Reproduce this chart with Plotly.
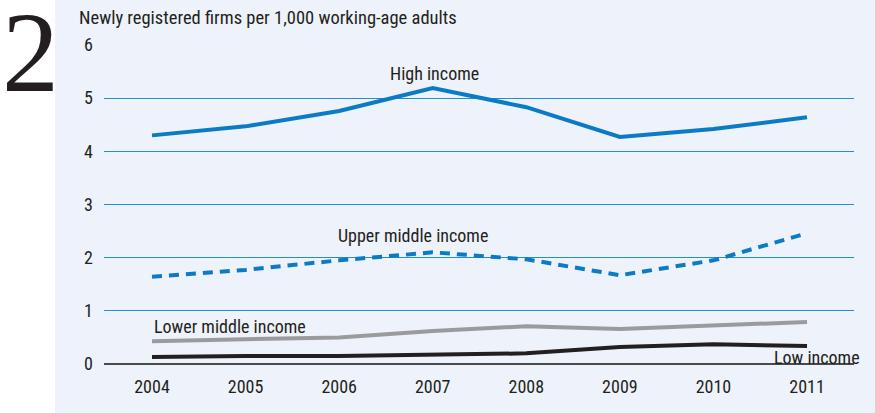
import plotly.graph_objects as go

years = [2004, 2005, 2006, 2007, 2008, 2009, 2010, 2011]
high_income = [4.30, 4.47, 4.76, 5.19, 4.83, 4.27, 4.42, 4.64]
upper_middle_income = [1.64, 1.77, 1.95, 2.10, 1.97, 1.67, 1.95, 2.46]
lower_middle_income = [0.43, 0.47, 0.50, 0.62, 0.71, 0.66, 0.73, 0.79]
low_income = [0.13, 0.15, 0.15, 0.17, 0.20, 0.32, 0.37, 0.34]
y_ticks = [0, 1, 2, 3, 4, 5, 6]

FONT = "Roboto Condensed, Liberation Sans, sans-serif"
BLUE = "#0a7bc4"
INK = "#231f20"

fig = go.Figure()
fig.add_trace(go.Scatter(x=years, y=high_income, mode="lines",
                         line=dict(color=BLUE, width=4)))
fig.add_trace(go.Scatter(x=years, y=upper_middle_income, mode="lines",
                         line=dict(color=BLUE, width=4, dash="10px,7px")))
fig.add_trace(go.Scatter(x=years, y=lower_middle_income, mode="lines",
                         line=dict(color="#9a9b9d", width=4)))
fig.add_trace(go.Scatter(x=years, y=low_income, mode="lines",
                         line=dict(color=INK, width=4)))

L, R, T, B = 104, 21, 45, 49
W, H = 875, 413
pw, ph = W - L - R, H - T - B


def px(x):
    return (x - L) / pw


def py(y):
    return (H - B - y) / ph


fig.add_shape(type="rect", xref="paper", yref="paper",
              x0=px(55), x1=px(W), y0=py(H), y1=py(0),
              fillcolor="#eef2fa", line_width=0, layer="below")

anns = [
    dict(x=2007.02, y=5.47, text="High income", xanchor="center"),
    dict(x=2006.79, y=2.41, text="Upper middle income", xanchor="center"),
    dict(x=2004.0, y=0.71, text="Lower middle income", xanchor="left"),
    dict(x=2010.63, y=0.13, text="Low income", xanchor="left"),
]
for a in anns:
    fig.add_annotation(x=a["x"], y=a["y"], text=a["text"], xanchor=a["xanchor"],
                       yanchor="middle", showarrow=False,
                       font=dict(family=FONT, size=18, color=INK))

fig.add_annotation(xref="paper", yref="paper", x=px(77), y=py(18),
                   text="Newly registered firms per 1,000 working-age adults",
                   xanchor="left", yanchor="middle", showarrow=False,
                   font=dict(family=FONT, size=18.5, color=INK))
fig.add_annotation(xref="paper", yref="paper", x=px(30), y=py(52),
                   text="2", xanchor="center", yanchor="middle", showarrow=False,
                   font=dict(family="Liberation Serif, DejaVu Serif, serif", size=114, color=INK))

fig.update_layout(
    width=W, height=H,
    margin=dict(l=L, r=R, t=T, b=B),
    paper_bgcolor="white", plot_bgcolor="rgba(0,0,0,0)",
    showlegend=False,
    font=dict(family=FONT, size=18, color=INK),
)
fig.update_xaxes(range=[2003.487, 2011.502], tickvals=years, ticktext=[str(y) for y in years],
                 showgrid=False, zeroline=False, showline=False, ticks="",
                 ticklabelstandoff=10, tickfont=dict(size=18))
fig.update_yaxes(range=[0, 6], tickvals=y_ticks, showgrid=True, gridcolor="#1f8fd6", gridwidth=1,
                 zeroline=True, zerolinecolor="#4a4a4a", zerolinewidth=1.5,
                 showline=False, ticks="", ticklabelstandoff=10, tickfont=dict(size=18))

fig.write_html("out.html", config={"displayModeBar": False},
               post_script="document.body.style.margin='0';")
